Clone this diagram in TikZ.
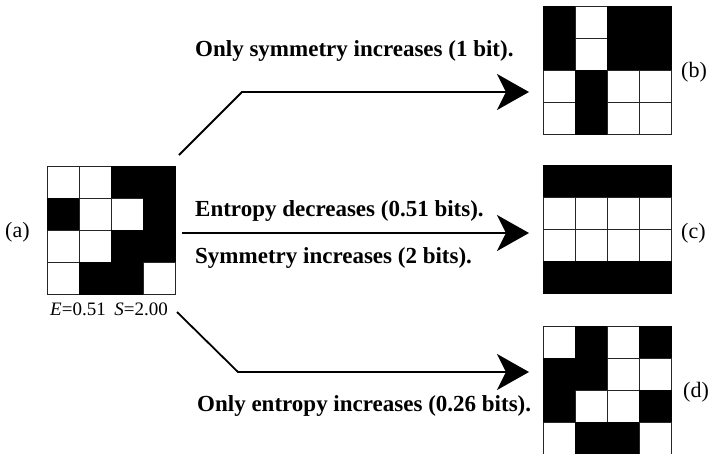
\documentclass[tikz,border=0pt]{standalone}
\usepackage{fontspec}
\setmainfont{Liberation Serif}
\usetikzlibrary{arrows.meta}
\colorlet{c0}{white}
\colorlet{c1}{black}
\begin{document}
\begin{tikzpicture}[x=1pt,y=-1pt,
  cell0/.style={draw=black!85, fill=white, line width=0.7pt},
  cell1/.style={draw=black, fill=black, line width=0.7pt},
  gridbox/.style={minimum size=128pt, inner sep=0, anchor=north west},
  lbl/.style={font=\fontsize{22}{22}\selectfont, anchor=west, inner sep=0},
  bt/.style={font=\bfseries\fontsize{23}{23}\selectfont, anchor=base west, inner sep=0},
  conn/.style={line width=1.8pt, -{Stealth[length=32pt,width=36pt,inset=9pt]}}]
\useasboundingbox (0,0) rectangle (710,453);
\newcommand\drawgrid[3]{%
  \foreach \row [count=\r from 0] in {#3} {
    \foreach \v [count=\c from 0] in \row {
      \draw[cell\v] ({#1+\c*32},{#2+\r*32}) rectangle ++(32,32);
    }
  }
}
% grids
\node[gridbox] (ga) at (47,166) {};
\node[gridbox] (gb) at (543,6) {};
\node[gridbox] (gc) at (543,165) {};
\node[gridbox] (gd) at (543,326) {};
\drawgrid{47}{166}{{0,0,1,1},{1,0,0,1},{0,0,1,1},{0,1,1,0}}
\drawgrid{543}{6}{{1,0,1,1},{1,0,1,1},{0,1,0,0},{0,1,0,0}}
\drawgrid{543}{165}{{1,1,1,1},{0,0,0,0},{0,0,0,0},{1,1,1,1}}
\drawgrid{543}{326}{{0,1,0,1},{1,1,0,0},{1,0,0,1},{0,1,1,0}}
% labels
\node[lbl] (la) at (5,232) {(a)};
\node[lbl] (lb) at (681,72) {(b)};
\node[lbl] (lc) at (681,233) {(c)};
\node[lbl] (ld) at (683,392) {(d)};
\node[font=\fontsize{19}{19}\selectfont, anchor=base west, inner sep=0] (es) at (50,315) {\textit{E}=0.51\hspace{0.45em}\textit{S}=2.00};
% texts
\node[bt] (t1) at (195,56) {Only symmetry increases (1 bit).};
\node[bt] (t2) at (195,216) {Entropy decreases (0.51 bits).};
\node[bt] (t3) at (195,263) {Symmetry increases (2 bits).};
\node[bt] (t4) at (197,411) {Only entropy increases (0.26 bits).};
% connectors
\coordinate (s1) at (179,155);
\coordinate (k1) at (242,92);
\coordinate (e1) at (529,92);
\coordinate (s2) at (182,233);
\coordinate (e2) at (529,233);
\coordinate (s3) at (177,312);
\coordinate (k3) at (238,372);
\coordinate (e3) at (529,372);
\draw[conn] (s1) -- (k1) -- (e1);
\draw[conn] (s2) -- (e2);
\draw[conn] (s3) -- (k3) -- (e3);
\end{tikzpicture}
\end{document}
